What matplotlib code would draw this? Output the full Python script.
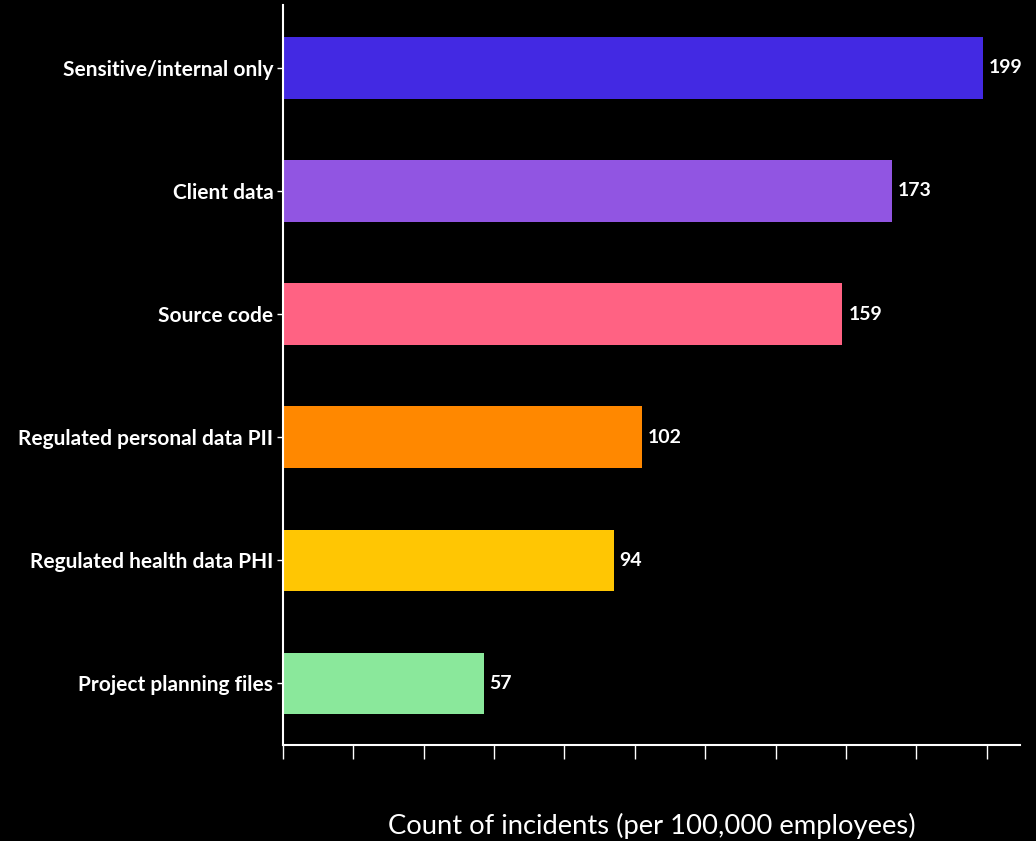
import matplotlib
matplotlib.use("Agg")
import matplotlib.pyplot as plt

categories = [
    "Sensitive/internal only",
    "Client data",
    "Source code",
    "Regulated personal data PII",
    "Regulated health data PHI",
    "Project planning files",
]
counts = [199, 173, 159, 102, 94, 57]
colors = ["#4329e3", "#9155e2", "#ff6283", "#ff8800", "#ffc603", "#8ae89b"]

plt.rcParams["font.family"] = ["Lato", "DejaVu Sans"]

fig = plt.figure(figsize=(10.36, 8.41), dpi=100, facecolor="black")
ax = fig.add_axes([0.2732, 0.1141, 0.7114, 0.88])
ax.set_facecolor("black")

y = list(range(len(categories)))
bars = ax.barh(y, counts, height=0.5, color=colors)
for rect, v in zip(bars, counts):
    ax.text(rect.get_width() + 1.7, rect.get_y() + rect.get_height() / 2, str(v),
            color="white", fontsize=14, fontweight="bold", va="center", ha="left")

ax.set_yticks(y)
ax.set_yticklabels(categories, color="white", fontsize=15, fontweight="bold")
ax.set_ylim(5.5, -0.51)
ax.set_xlim(0, 209.5)
ax.set_xticks(range(0, 201, 20))
ax.set_xticklabels([])
ax.tick_params(axis="x", colors="white", length=10, width=1)
ax.tick_params(axis="y", colors="white", length=4, width=1, pad=3)

for side in ["top", "right"]:
    ax.spines[side].set_visible(False)
for side in ["left", "bottom"]:
    ax.spines[side].set_color("white")
    ax.spines[side].set_linewidth(1.5)

ax.set_xlabel("Count of incidents (per 100,000 employees)", color="white",
              fontsize=19.7, labelpad=35)

fig.savefig("out.png", dpi=100, facecolor="black")
